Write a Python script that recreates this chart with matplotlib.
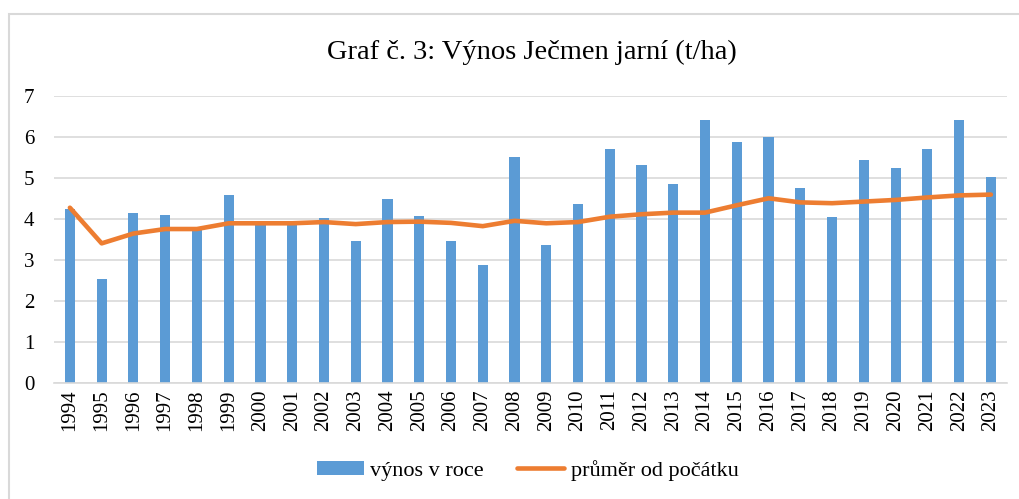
import numpy as np
import matplotlib
matplotlib.use("Agg")
import matplotlib.pyplot as plt
from matplotlib.patches import Rectangle

years = [str(y) for y in range(1994, 2024)]

# yield per year (t/ha)
vynos = [4.25, 2.52, 4.13, 4.08, 3.75, 4.58, 3.85, 3.85, 4.02, 3.47,
         4.48, 4.07, 3.45, 2.88, 5.50, 3.36, 4.37, 5.70, 5.30, 4.85,
         6.41, 5.87, 5.99, 4.75, 4.05, 5.43, 5.25, 5.70, 6.41, 5.02]

# running average since start
prumer = [4.27, 3.40, 3.64, 3.75, 3.75, 3.89, 3.89, 3.89, 3.92, 3.87,
          3.92, 3.93, 3.90, 3.82, 3.95, 3.89, 3.92, 4.05, 4.11, 4.15,
          4.15, 4.33, 4.50, 4.40, 4.38, 4.42, 4.46, 4.52, 4.57, 4.59]

plt.rcParams['font.family'] = ['Liberation Serif', 'DejaVu Serif']

fig = plt.figure(figsize=(10.19, 4.99), dpi=100)
ax = fig.add_axes([0.053, 0.233, 0.935, 0.575])

x = np.arange(len(years))
bars = ax.bar(x, vynos, width=0.32, color='#5B9BD5', label='výnos v roce', zorder=2)
line, = ax.plot(x, prumer, color='#ED7D31', lw=3.3, solid_capstyle='round',
                label='průměr od počátku', zorder=3)

ax.set_ylim(0, 7)
ax.set_yticks(range(0, 8))
ax.set_xlim(-0.5, len(years) - 0.5)
ax.set_xticks(x)
ax.set_xticklabels(years, rotation=90, fontsize=15)
ax.tick_params(axis='y', labelsize=15, length=0, pad=14)
ax.tick_params(axis='x', length=0, pad=5)
ax.grid(axis='y', color='#D9D9D9', lw=1.2, zorder=0)
for s in ['top', 'right', 'left']:
    ax.spines[s].set_visible(False)
ax.spines['bottom'].set_color('#D9D9D9')
ax.spines['bottom'].set_linewidth(1.2)

fig.text(0.522, 0.895, 'Graf č. 3: Výnos Ječmen jarní (t/ha)', ha='center',
         va='center', fontsize=20.5)

fig.legend([bars, line], ['výnos v roce', 'průměr od počátku'],
           loc='center', bbox_to_anchor=(0.518, 0.058), ncol=2, frameon=False,
           fontsize=16, handlelength=2.1, handleheight=0.6,
           handletextpad=0.3, columnspacing=1.5)

# outer chart border (left and top visible)
fig.patches.append(Rectangle((9 / 1019, -0.1), 1.2, 1 - 14 / 499 + 0.1,
                             transform=fig.transFigure, fill=False,
                             edgecolor='#D9D9D9', lw=1.5))

fig.savefig('out.png', dpi=100)
